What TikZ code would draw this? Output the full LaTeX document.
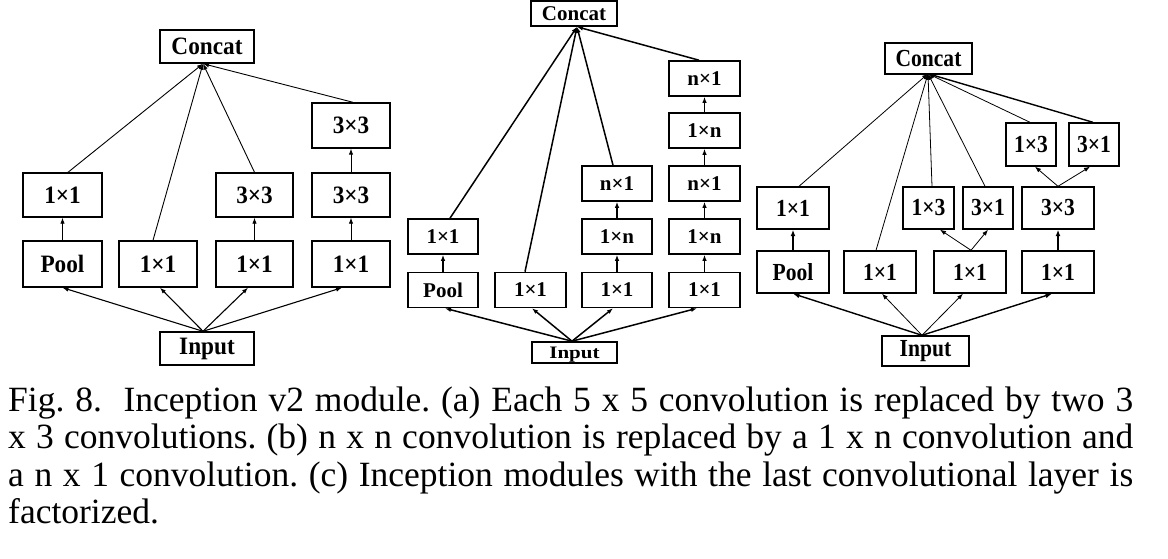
\documentclass[tikz,border=0pt]{standalone}
\usepackage{fontspec}
\setmainfont{Liberation Serif}
\newfontfamily\boxfontA[FakeStretch=0.93]{Liberation Serif}
\newfontfamily\boxfontC[FakeStretch=0.88]{Liberation Serif}
\newfontfamily\boxfontBin[FakeStretch=1.2]{Liberation Serif}
\usetikzlibrary{arrows.meta}
\begin{document}
\frenchspacing
\begin{tikzpicture}[x=1pt,y=-1pt,
  box/.style={draw, line width=1.4pt, inner sep=0pt, font=\bfseries},
  boxa/.style={box, minimum width=78pt, minimum height=44pt, font=\fontsize{25}{25}\boxfontA\bfseries},
  boxb/.style={box, line width=1.6pt, minimum width=70pt, minimum height=35pt, font=\fontsize{21}{21}\selectfont\bfseries},
  boxc/.style={box, minimum width=72pt, minimum height=42pt, font=\fontsize{24.5}{24.5}\boxfontC\bfseries},
  boxcs/.style={boxc, minimum width=50pt},
  arr/.style={-{Latex[length=6pt,width=4.5pt]}, line width=0.9pt},
  arrthin/.style={-{Latex[length=6pt,width=4.5pt]}, line width=0.8pt},
  arrthick/.style={-{Latex[length=6.5pt,width=5pt]}, line width=1.4pt},
  captxt/.style={anchor=base west, inner sep=0pt, font=\fontsize{35.5}{37}\selectfont}
]
\useasboundingbox (0,0) rectangle (1168,559);

% ---------------- (a) ----------------
\node[boxa, minimum width=94pt, minimum height=33pt] (acat) at (207,46.5) {Concat};
\node[boxa, minimum width=94pt, minimum height=33pt] (ain) at (207,348.5) {Input};
\node[boxa, minimum width=79pt, minimum height=46pt] (a1b) at (62.5,264) {Pool};
\node[boxa, minimum width=79pt] (a1t) at (62.5,195) {1×1};
\node[boxa, minimum height=46pt] (a2b) at (158,264) {1×1};
\node[boxa, minimum width=77pt, minimum height=46pt] (a3b) at (254.5,264) {1×1};
\node[boxa, minimum width=77pt] (a3t) at (254.5,195) {3×3};
\node[boxa, minimum height=46pt] (a4b) at (351,264) {1×1};
\node[boxa] (a4m) at (351,195) {3×3};
\node[boxa, minimum height=45pt] (a4t) at (351,125.5) {3×3};

\coordinate (acatp) at ([xshift=-4pt]acat.south);
\coordinate (ainp) at ([xshift=-4pt]ain.north);
\draw[arr] ([xshift=5.5pt]a1t.north) -- (acatp);
\draw[arr] ([xshift=-5pt]a2b.north) -- (acatp);
\draw[arr] (a3t.north) -- (acatp);
\draw[arr] ([xshift=2pt]a4t.north) -- (acatp);
\draw[arr] (a1b) -- (a1t);
\draw[arr] (a3b) -- (a3t);
\draw[arr] (a4b) -- (a4m);
\draw[arr] (a4m) -- (a4t);
\draw[arr, line width=1.1pt] (ainp) -- (a1b.south);
\draw[arr, line width=1.1pt] (ainp) -- ([xshift=2pt]a2b.south);
\draw[arr, line width=1.1pt] (ainp) -- ([xshift=-6.5pt]a3b.south);
\draw[arr, line width=1.1pt] (ainp) -- ([xshift=-9pt]a4b.south);

% ---------------- (b) ----------------
\node[boxb, minimum width=86pt, minimum height=25pt] (bcat) at (574,13.5) {Concat};
\node[boxb, minimum width=85pt, minimum height=21pt, text depth=0pt, font=\fontsize{17.5}{17.5}\boxfontBin\bfseries] (bin) at (574.5,352.5) {Input};
\node[boxb] (b1a) at (443,290) {Pool};
\node[boxb] (b1b) at (443,236.5) {1×1};
\node[boxb, minimum width=71pt] (b2a) at (530.5,290) {1×1};
\node[boxb] (b3a) at (617,290) {1×1};
\node[boxb] (b3b) at (617,236.5) {1×n};
\node[boxb] (b3c) at (617,183.5) {n×1};
\node[boxb, minimum width=71pt] (b4a) at (704.5,290) {1×1};
\node[boxb, minimum width=71pt] (b4b) at (704.5,236.5) {1×n};
\node[boxb, minimum width=71pt] (b4c) at (704.5,183.5) {n×1};
\node[boxb, minimum width=71pt] (b4d) at (704.5,130.5) {1×n};
\node[boxb, minimum width=71pt] (b4e) at (704.5,78.5) {n×1};

\coordinate (bcatp) at ([xshift=3pt]bcat.south);
\coordinate (binp) at ([xshift=-2.5pt]bin.north);
\begin{scope}[every path/.style={arr, line width=1.5pt}]
\draw ([xshift=7pt]b1b.north) -- (bcatp);
\draw ([xshift=-5.5pt]b2a.north) -- (bcatp);
\draw ([xshift=-4pt]b3c.north) -- (bcatp);
\draw ([xshift=-5.5pt]b4e.north) -- (bcatp);
\draw (b1a) -- (b1b);
\draw (b3a) -- (b3b);
\draw (b3b) -- (b3c);
\draw (b4a) -- (b4b);
\draw (b4b) -- (b4c);
\draw (b4c) -- (b4d);
\draw (b4d) -- (b4e);
\draw (binp) -- ([xshift=2pt]b1a.south);
\draw (binp) -- ([xshift=1.5pt]b2a.south);
\draw (binp) -- ([xshift=-4pt]b3a.south);
\draw (binp) -- ([xshift=-7.5pt]b4a.south);
\end{scope}

% ---------------- (c) ----------------
\node[boxc, minimum width=87pt, minimum height=31pt] (ccat) at (928.5,58.5) {Concat};
\node[boxc, minimum width=87pt, minimum height=30pt] (cin) at (925.5,351) {Input};
\node[boxc] (c1a) at (793,272) {Pool};
\node[boxc] (c1b) at (793,208) {1×1};
\node[boxc] (c2a) at (880,272) {1×1};
\node[boxc] (c3a) at (970,272) {1×1};
\node[boxcs, minimum width=51pt] (c3b) at (928.5,208) {1×3};
\node[boxcs] (c3c) at (988,208) {3×1};
\node[boxc] (c4a) at (1058,272) {1×1};
\node[boxc] (c4b) at (1058,208) {3×3};
\node[boxcs, minimum height=43pt] (c4c) at (1031,144.5) {1×3};
\node[boxcs, minimum height=43pt] (c4d) at (1094,144.5) {3×1};

\coordinate (ccatp) at ([xshift=-0.5pt,yshift=1pt]ccat.south);
\coordinate (cinp) at ([xshift=-3.5pt]cin.north);
\draw[arrthin] ([xshift=6pt]c1b.north) -- (ccatp);
\draw[arrthin] ([xshift=-4pt]c2a.north) -- (ccatp);
\draw[arrthin] ([xshift=3.5pt]c3b.north) -- (ccatp);
\draw[arrthin] ([xshift=-3pt]c3c.north) -- (ccatp);
\draw[arrthin] ([xshift=-1pt]c4c.north) -- (ccatp);
\draw[arrthick] ([xshift=-1pt]c4d.north) -- (ccatp);
\draw[arrthick] (c1a) -- (c1b);
\draw[arrthick] (c4a) -- (c4b);
\draw[arrthin] ([xshift=1pt]c3a.north) -- ([xshift=11.5pt]c3b.south);
\draw[arrthin] ([xshift=1pt]c3a.north) -- (c3c.south);
\draw[arrthin] (c4b.north) -- ([xshift=4pt]c4c.south);
\draw[arrthin] (c4b.north) -- ([xshift=-4pt]c4d.south);
\draw[arrthick] (cinp) -- (c1a.south);
\draw[arrthin] (cinp) -- ([xshift=2pt]c2a.south);
\draw[arrthin] (cinp) -- ([xshift=-7pt]c3a.south);
\draw[arrthick] (cinp) -- ([xshift=-6pt]c4a.south);

% ---------------- caption ----------------
\node[captxt] (cap1) at (8,411) {\makebox[1125pt][s]{Fig. 8.\ \ Inception v2 module. (a) Each 5 x 5 convolution is replaced by two 3}};
\node[captxt] (cap2) at (8,448.5) {\makebox[1125pt][s]{x 3 convolutions. (b) n x n convolution is replaced by a 1 x n convolution and}};
\node[captxt] (cap3) at (8,486) {\makebox[1125pt][s]{a n x 1 convolution. (c) Inception modules with the last convolutional layer is}};
\node[captxt] (cap4) at (8,523.5) {factorized.};
\end{tikzpicture}
\end{document}
